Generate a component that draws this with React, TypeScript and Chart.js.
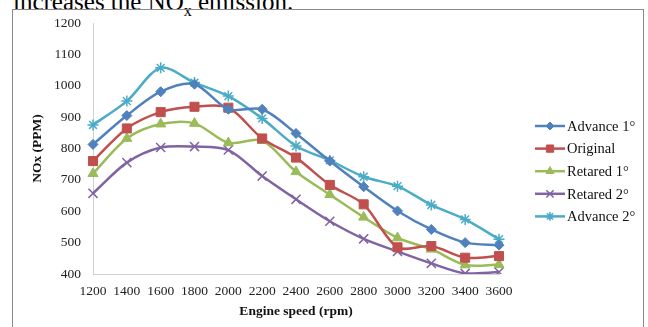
import React, { useEffect, useRef } from 'react';
import { Chart, registerables } from 'chart.js';
import { drawPoint } from 'chart.js/helpers';

Chart.register(...registerables);

const speeds = ['1200', '1400', '1600', '1800', '2000', '2200', '2400', '2600', '2800', '3000', '3200', '3400', '3600'];
const advance1 = [813, 905, 981, 1005, 925, 925, 848, 760, 678, 601, 542, 500, 492];
const original = [760, 864, 916, 933, 930, 832, 771, 684, 622, 485, 489, 452, 457];
const retarded1 = [720, 832, 878, 880, 818, 825, 726, 653, 581, 515, 479, 429, 430];
const retarded2 = [657, 755, 803, 806, 795, 712, 638, 568, 512, 472, 434, 402, 406];
const advance2 = [875, 951, 1057, 1010, 967, 896, 808, 762, 710, 680, 620, 574, 511];
const seriesNames = ['Advance 1°', 'Original', 'Retared 1°', 'Retared 2°', 'Advance 2°'];
const yMin = 400;
const yMax = 1200;
const yStep = 100;

const FONT = '"Liberation Serif", "Times New Roman", serif';

const legendPlugin = {
  id: 'lineMarkerLegend',
  afterDraw(chart: any) {
    const { ctx, chartArea } = chart;
    const x0 = chartArea.right + 36;
    chart.data.datasets.forEach((ds: any, i: number) => {
      const y = chartArea.top + 103 + i * 22.6;
      ctx.save();
      ctx.strokeStyle = ds.borderColor;
      ctx.lineWidth = 2.5;
      ctx.beginPath();
      ctx.moveTo(x0, y);
      ctx.lineTo(x0 + 30, y);
      ctx.stroke();
      ctx.fillStyle = ds.pointBackgroundColor;
      ctx.strokeStyle = ds.pointBorderColor;
      ctx.lineWidth = ds.pointBorderWidth;
      drawPoint(ctx, { pointStyle: ds.pointStyle, rotation: 0, radius: ds.pointRadius * 0.8, borderWidth: ds.pointBorderWidth }, x0 + 15, y);
      ctx.fillStyle = '#111';
      ctx.font = `14.5px ${FONT}`;
      ctx.textBaseline = 'middle';
      ctx.textAlign = 'left';
      ctx.fillText(ds.label, x0 + 32, y + 1);
      ctx.restore();
    });
  },
};

function mk(label: string, data: number[], color: string, style: string, radius: number, bw: number) {
  return {
    label,
    data,
    borderColor: color,
    backgroundColor: color,
    pointBackgroundColor: color,
    pointBorderColor: color,
    pointStyle: style,
    pointRadius: radius,
    pointBorderWidth: bw,
    borderWidth: 2.5,
    tension: 0.3,
    fill: false,
  };
}

export default function App() {
  const ref = useRef<HTMLCanvasElement | null>(null);
  useEffect(() => {
    if (!ref.current) return;
    const chart = new Chart(ref.current, {
      type: 'line',
      data: {
        labels: speeds,
        datasets: [
          mk(seriesNames[0], advance1, '#4F81BD', 'rectRot', 5, 1),
          mk(seriesNames[1], original, '#C0504D', 'rect', 6.4, 1),
          mk(seriesNames[2], retarded1, '#9BBB59', 'triangle', 5.8, 1),
          mk(seriesNames[3], retarded2, '#8064A2', 'crossRot', 6.4, 1.5),
          mk(seriesNames[4], advance2, '#4BACC6', 'star', 5.5, 1.5),
        ] as any,
      },
      options: {
        responsive: false,
        animation: false,
        layout: { padding: { left: 14, top: 23, right: 149, bottom: 0 } },
        plugins: { legend: { display: false }, tooltip: { enabled: false } },
        scales: {
          x: {
            offset: false,
            grid: { display: false, drawTicks: false },
            border: { display: true, color: '#D0D0D0', width: 1 },
            ticks: { color: '#222', font: { family: FONT, size: 13.5 }, padding: 9, maxRotation: 0, autoSkip: false },
            title: { display: true, text: 'Engine speed (rpm)', color: '#111', font: { family: FONT, size: 13.5, weight: 'bold' }, padding: { top: 0, bottom: 7 } },
            afterFit: (s: any) => { s.height = 53; },
          },
          y: {
            min: yMin,
            max: yMax,
            grid: { display: false, drawTicks: false },
            border: { display: true, color: '#D0D0D0', width: 1 },
            ticks: { stepSize: yStep, color: '#222', font: { family: FONT, size: 13.5 }, padding: 12, callback: (v: any) => String(v) },
            title: { display: true, text: 'NOx (PPM)', color: '#111', font: { family: FONT, size: 13.5, weight: 'bold' }, padding: { top: 15, bottom: 0 } },
            afterFit: (s: any) => { s.width = 79; },
          },
        },
      } as any,
      plugins: [legendPlugin],
    });
    return () => chart.destroy();
  }, []);

  return (
    <div style={{ position: 'absolute', left: 0, top: 0, width: 648, height: 327, overflow: 'hidden', background: '#fff' }}>
      <div style={{ position: 'absolute', left: 13, top: -11, fontFamily: FONT, fontSize: 25, lineHeight: '25px', color: '#000', whiteSpace: 'nowrap' }}>
        increases the NO<sub style={{ fontSize: 16 }}>x</sub> emission.
      </div>
      <div style={{ position: 'absolute', left: 12, top: 9, width: 632, height: 340, border: '1px solid #8A8A8A', boxSizing: 'border-box' }} />
      <canvas ref={ref} width={648} height={327} style={{ position: 'absolute', left: 0, top: 0 }} />
    </div>
  );
}
